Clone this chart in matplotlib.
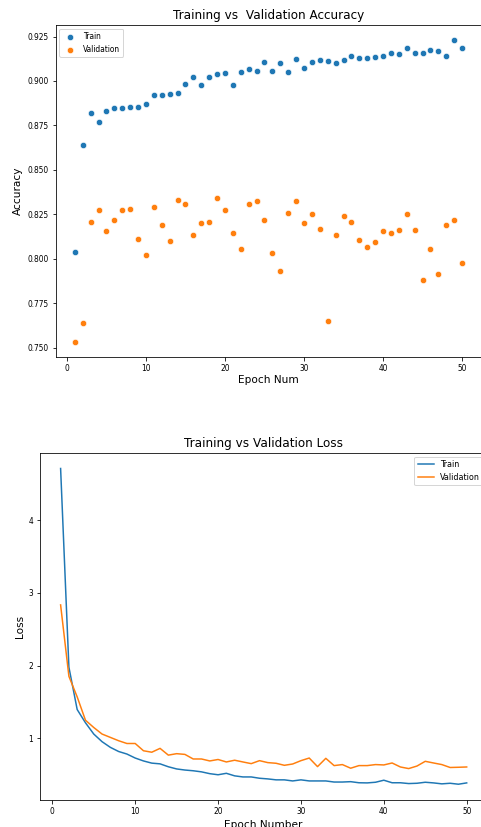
import numpy as np
import matplotlib
matplotlib.use("Agg")
from matplotlib import pyplot as plt

epochs = np.arange(1, 51)

train_acc = [0.804, 0.864, 0.882, 0.877, 0.883, 0.885, 0.885, 0.8856, 0.8856, 0.8869,
             0.8923, 0.8923, 0.8929, 0.8933, 0.8984, 0.9023, 0.8976, 0.9023, 0.904, 0.9047,
             0.8976, 0.905, 0.907, 0.9057, 0.9105, 0.9057, 0.910, 0.9053, 0.9123, 0.9074,
             0.9105, 0.9117, 0.9112, 0.910, 0.9117, 0.9143, 0.913, 0.913, 0.9137, 0.9143,
             0.916, 0.9153, 0.9186, 0.9156, 0.9156, 0.9177, 0.917, 0.9143, 0.923, 0.9186]
val_acc = [0.7533, 0.764, 0.8206, 0.8276, 0.8156, 0.822, 0.8274, 0.828, 0.8113, 0.8019,
           0.8293, 0.819, 0.8103, 0.8332, 0.831, 0.8133, 0.8203, 0.8206, 0.834, 0.8272,
           0.8143, 0.8053, 0.8307, 0.8328, 0.8216, 0.8035, 0.7932, 0.8255, 0.8328, 0.8203,
           0.825, 0.817, 0.765, 0.8133, 0.824, 0.8206, 0.8107, 0.8066, 0.8092, 0.8154,
           0.8143, 0.816, 0.8253, 0.816, 0.788, 0.8053, 0.7915, 0.819, 0.822, 0.7975]

train_loss = [4.712, 1.98, 1.397, 1.215, 1.06, 0.955, 0.877, 0.82, 0.785, 0.73,
              0.69, 0.66, 0.65, 0.61, 0.58, 0.565, 0.555, 0.54, 0.515, 0.50,
              0.52, 0.485, 0.47, 0.47, 0.452, 0.443, 0.43, 0.43, 0.415, 0.43,
              0.415, 0.415, 0.415, 0.40, 0.40, 0.405, 0.39, 0.388, 0.397, 0.425,
              0.39, 0.39, 0.379, 0.383, 0.397, 0.388, 0.375, 0.383, 0.37, 0.388]
val_loss = [2.836, 1.854, 1.571, 1.25, 1.15, 1.06, 1.014, 0.968, 0.93, 0.93,
            0.83, 0.81, 0.863, 0.77, 0.79, 0.78, 0.717, 0.717, 0.69, 0.71,
            0.676, 0.70, 0.676, 0.653, 0.694, 0.667, 0.658, 0.63, 0.648, 0.694,
            0.73, 0.612, 0.726, 0.626, 0.64, 0.59, 0.626, 0.626, 0.64, 0.635,
            0.662, 0.607, 0.585, 0.62, 0.685, 0.662, 0.64, 0.60, 0.603, 0.607]

W, H = 481, 827
fig = plt.figure(figsize=(W / 72, H / 72), dpi=72)


def box(l, r, t, b):
    return [l / W, 1 - b / H, (r - l) / W, (b - t) / H]


# accuracy
ax1 = fig.add_axes(box(55.5, 481.4, 25, 357))
ax1.scatter(epochs, train_acc, s=40, color='#1f77b4', edgecolors='white', linewidths=0.6, label='Train')
ax1.scatter(epochs, val_acc, s=40, color='#ff7f0e', edgecolors='white', linewidths=0.6, label='Validation')
ax1.set_title('Training vs  Validation Accuracy', fontsize=12)
ax1.set_xlabel('Epoch Num', fontsize=10.5, labelpad=2)
ax1.set_ylabel('Accuracy', fontsize=10.5)
ax1.set_yticks([0.75, 0.775, 0.8, 0.825, 0.85, 0.875, 0.9, 0.925])
ax1.tick_params(labelsize=7.5)
ax1.legend(loc='upper left', fontsize=7.5)

# loss (axes runs a little past the right edge, as in the original)
ax2 = fig.add_axes(box(40.3, 487, 452.7, 800))
ax2.plot(epochs, train_loss, color='#1f77b4', label='Train')
ax2.plot(epochs, val_loss, color='#ff7f0e', label='Validation')
ax2.set_xlim(-1.45, 52.45)
ax2.set_title('Training vs Validation Loss', fontsize=12)
ax2.set_xlabel('Epoch Number', fontsize=10.5, labelpad=4)
ax2.set_ylabel('Loss', fontsize=10.5)
ax2.tick_params(labelsize=7.5)
ax2.legend(loc='upper right', fontsize=8)

fig.savefig('out.png', dpi=72)
